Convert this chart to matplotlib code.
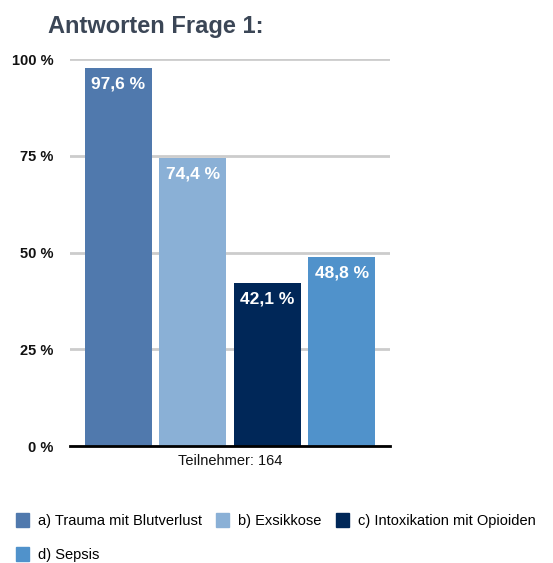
import numpy as np
from matplotlib import pyplot as plt
from matplotlib.patches import Patch

# data
answers = ['a) Trauma mit Blutverlust', 'b) Exsikkose',
           'c) Intoxikation mit Opioiden', 'd) Sepsis']
percent = [97.6, 74.4, 42.1, 48.8]
value_labels = ['97,6 %', '74,4 %', '42,1 %', '48,8 %']
y_ticks = [0, 25, 50, 75, 100]
group_label = 'Teilnehmer: 164'
colors = ['#5079ad', '#8ab0d6', '#002758', '#5092cb']

plt.rcParams['font.family'] = ['Liberation Sans', 'DejaVu Sans']

fig = plt.figure(figsize=(5.53, 5.63), dpi=100)
ax = fig.add_axes([0.1266, 0.2078, 0.5787, 0.6874])

x = np.arange(len(percent))
ax.bar(x, percent, width=0.9, color=colors, zorder=2)

# labels inside the bars
for xi, v, lbl in zip(x, percent, value_labels):
    ax.annotate(lbl, (xi, v), xytext=(0, -6), textcoords='offset points',
                ha='center', va='top', color='white', fontsize=12.5,
                fontweight='bold', zorder=3)

ax.set_xlim(-0.65, 3.65)
ax.set_ylim(0, 100)
ax.set_yticks(y_ticks)
ax.set_yticklabels([f'{t} %' for t in y_ticks], fontsize=10.5,
                   color='#111111', fontweight='bold')
ax.set_xticks([1.5])
ax.set_xticklabels([group_label], fontsize=10.5, color='#111111')
ax.tick_params(axis='both', length=0)
ax.tick_params(axis='y', pad=12)
ax.tick_params(axis='x', pad=6)

ax.yaxis.grid(True, color='#cccccc', linewidth=2, zorder=0)
for s in ['top', 'right', 'left']:
    ax.spines[s].set_visible(False)
ax.spines['bottom'].set_linewidth(2)
ax.spines['bottom'].set_color('black')
ax.spines['bottom'].set_zorder(4)

fig.text(0.282, 1 - 27 / 563, 'Antworten Frage 1:', ha='center', va='center',
         fontsize=17, fontweight='bold', color='#3b4656')

# legend, reordered so it reads row by row
handles = [Patch(color=c, label=a) for c, a in zip(colors, answers)]
order = [0, 3, 1, 2]
fig.legend([handles[i] for i in order], [answers[i] for i in order],
           loc='upper left', bbox_to_anchor=(0.005, 1 - 500 / 563), ncol=3,
           frameon=False, fontsize=10.5, handlelength=0.9, handleheight=1.1,
           handletextpad=0.6, columnspacing=1.0, labelspacing=1.3)

fig.savefig('out.png', dpi=100)
